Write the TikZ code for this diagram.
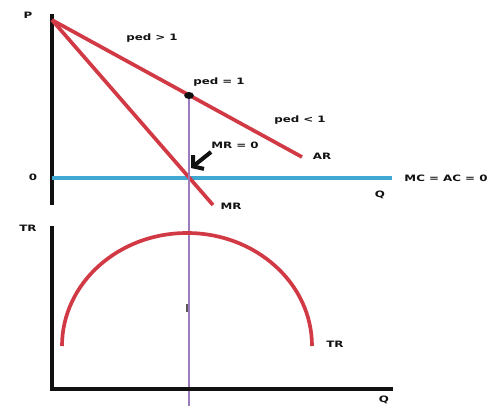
\documentclass[tikz,border=0pt]{standalone}
\usepackage{fontspec}
\setmainfont{DejaVu Sans}[FakeStretch=1.35]
\usepackage{xcolor}
\usepackage{tikz}
\usetikzlibrary{arrows.meta, positioning, calc, shapes.geometric}
\definecolor{cred}{HTML}{D13A45}
\definecolor{cblue}{HTML}{3FA9D4}
\definecolor{cpurple}{HTML}{9C7CBC}
\definecolor{cblack}{HTML}{111111}
\tikzset{
  axis/.style={cblack, line width=2.2pt},
  curve/.style={cred, line width=2.1pt},
  lbl/.style={font=\fontsize{5}{6}\selectfont\bfseries, text=cblack, inner sep=0pt}
}

\begin{document}
\begin{tikzpicture}[x=0.02cm, y=-0.02cm]

  \useasboundingbox (0,0) rectangle (499,406);

  %% Top panel: AR, MR and MC = AC = 0
  \coordinate (ptop)   at (52,14);
  \coordinate (pbot)   at (52,205);
  \coordinate (origin) at (52,178);
  \coordinate (mcend)  at (392,178);
  \coordinate (pmax)   at (52,20);
  \coordinate (arend)  at (302,157);
  \coordinate (mrend)  at (213,205);
  \coordinate (mrzero) at (189,178);
  \coordinate (vbot)   at (189,406);
  \coordinate (arrtail) at (211,152);
  \coordinate (arrtip)  at (191,168);

  \draw[axis] (ptop) -- (pbot);
  \draw[cblue, line width=1.9pt] (origin) -- (mcend);
  \draw[curve] (pmax) -- (arend);
  \draw[curve] (pmax) -- (mrend);

  \node[fill=cblack, ellipse, minimum width=5.5pt, minimum height=4pt, inner sep=0pt]
    (unit) at (189,95.5) {};
  \draw[cpurple, line width=0.9pt] (unit.south) -- (vbot);

  \draw[cblack, line width=2.3pt, -{Straight Barb[length=4pt, width=10pt]}]
    (arrtail) -- (arrtip);

  \node[lbl] (lblP)     at (28,15)  {P};
  \node[lbl] (lblO)     at (33,177) {0};
  \node[lbl] (lblpedgt) at (152,38) {ped > 1};
  \node[lbl] (lblpedeq) at (219,82) {ped = 1};
  \node[lbl] (lblpedlt) at (300,120) {ped < 1};
  \node[lbl] (lblmr0)   at (235,145) {MR = 0};
  \node[lbl] (lblAR)    at (322,156) {AR};
  \node[lbl] (lblMC)    at (446,178) {MC = AC = 0};
  \node[lbl] (lblQ)     at (380,195) {Q};
  \node[lbl] (lblMR)    at (231,206) {MR};

  %% Bottom panel: total revenue
  \coordinate (trtop)  at (52,226);
  \coordinate (trorig) at (52,389);
  \coordinate (qend)   at (393,389);
  \coordinate (trleft) at (62,346);
  \coordinate (ticka)  at (187,304);
  \coordinate (tickb)  at (187,312);

  \draw[axis] (trtop) -- (trorig) -- (qend);
  \draw[curve] (trleft) arc[start angle=180, end angle=0, x radius=125, y radius=-113];
  \draw[cblack!70, line width=0.8pt] (ticka) -- (tickb);

  \node[lbl] (lblTR)   at (28,228)  {TR};
  \node[lbl] (lblTRc)  at (335,344) {TR};
  \node[lbl] (lblQb)   at (384,400) {Q};

\end{tikzpicture}
\end{document}
